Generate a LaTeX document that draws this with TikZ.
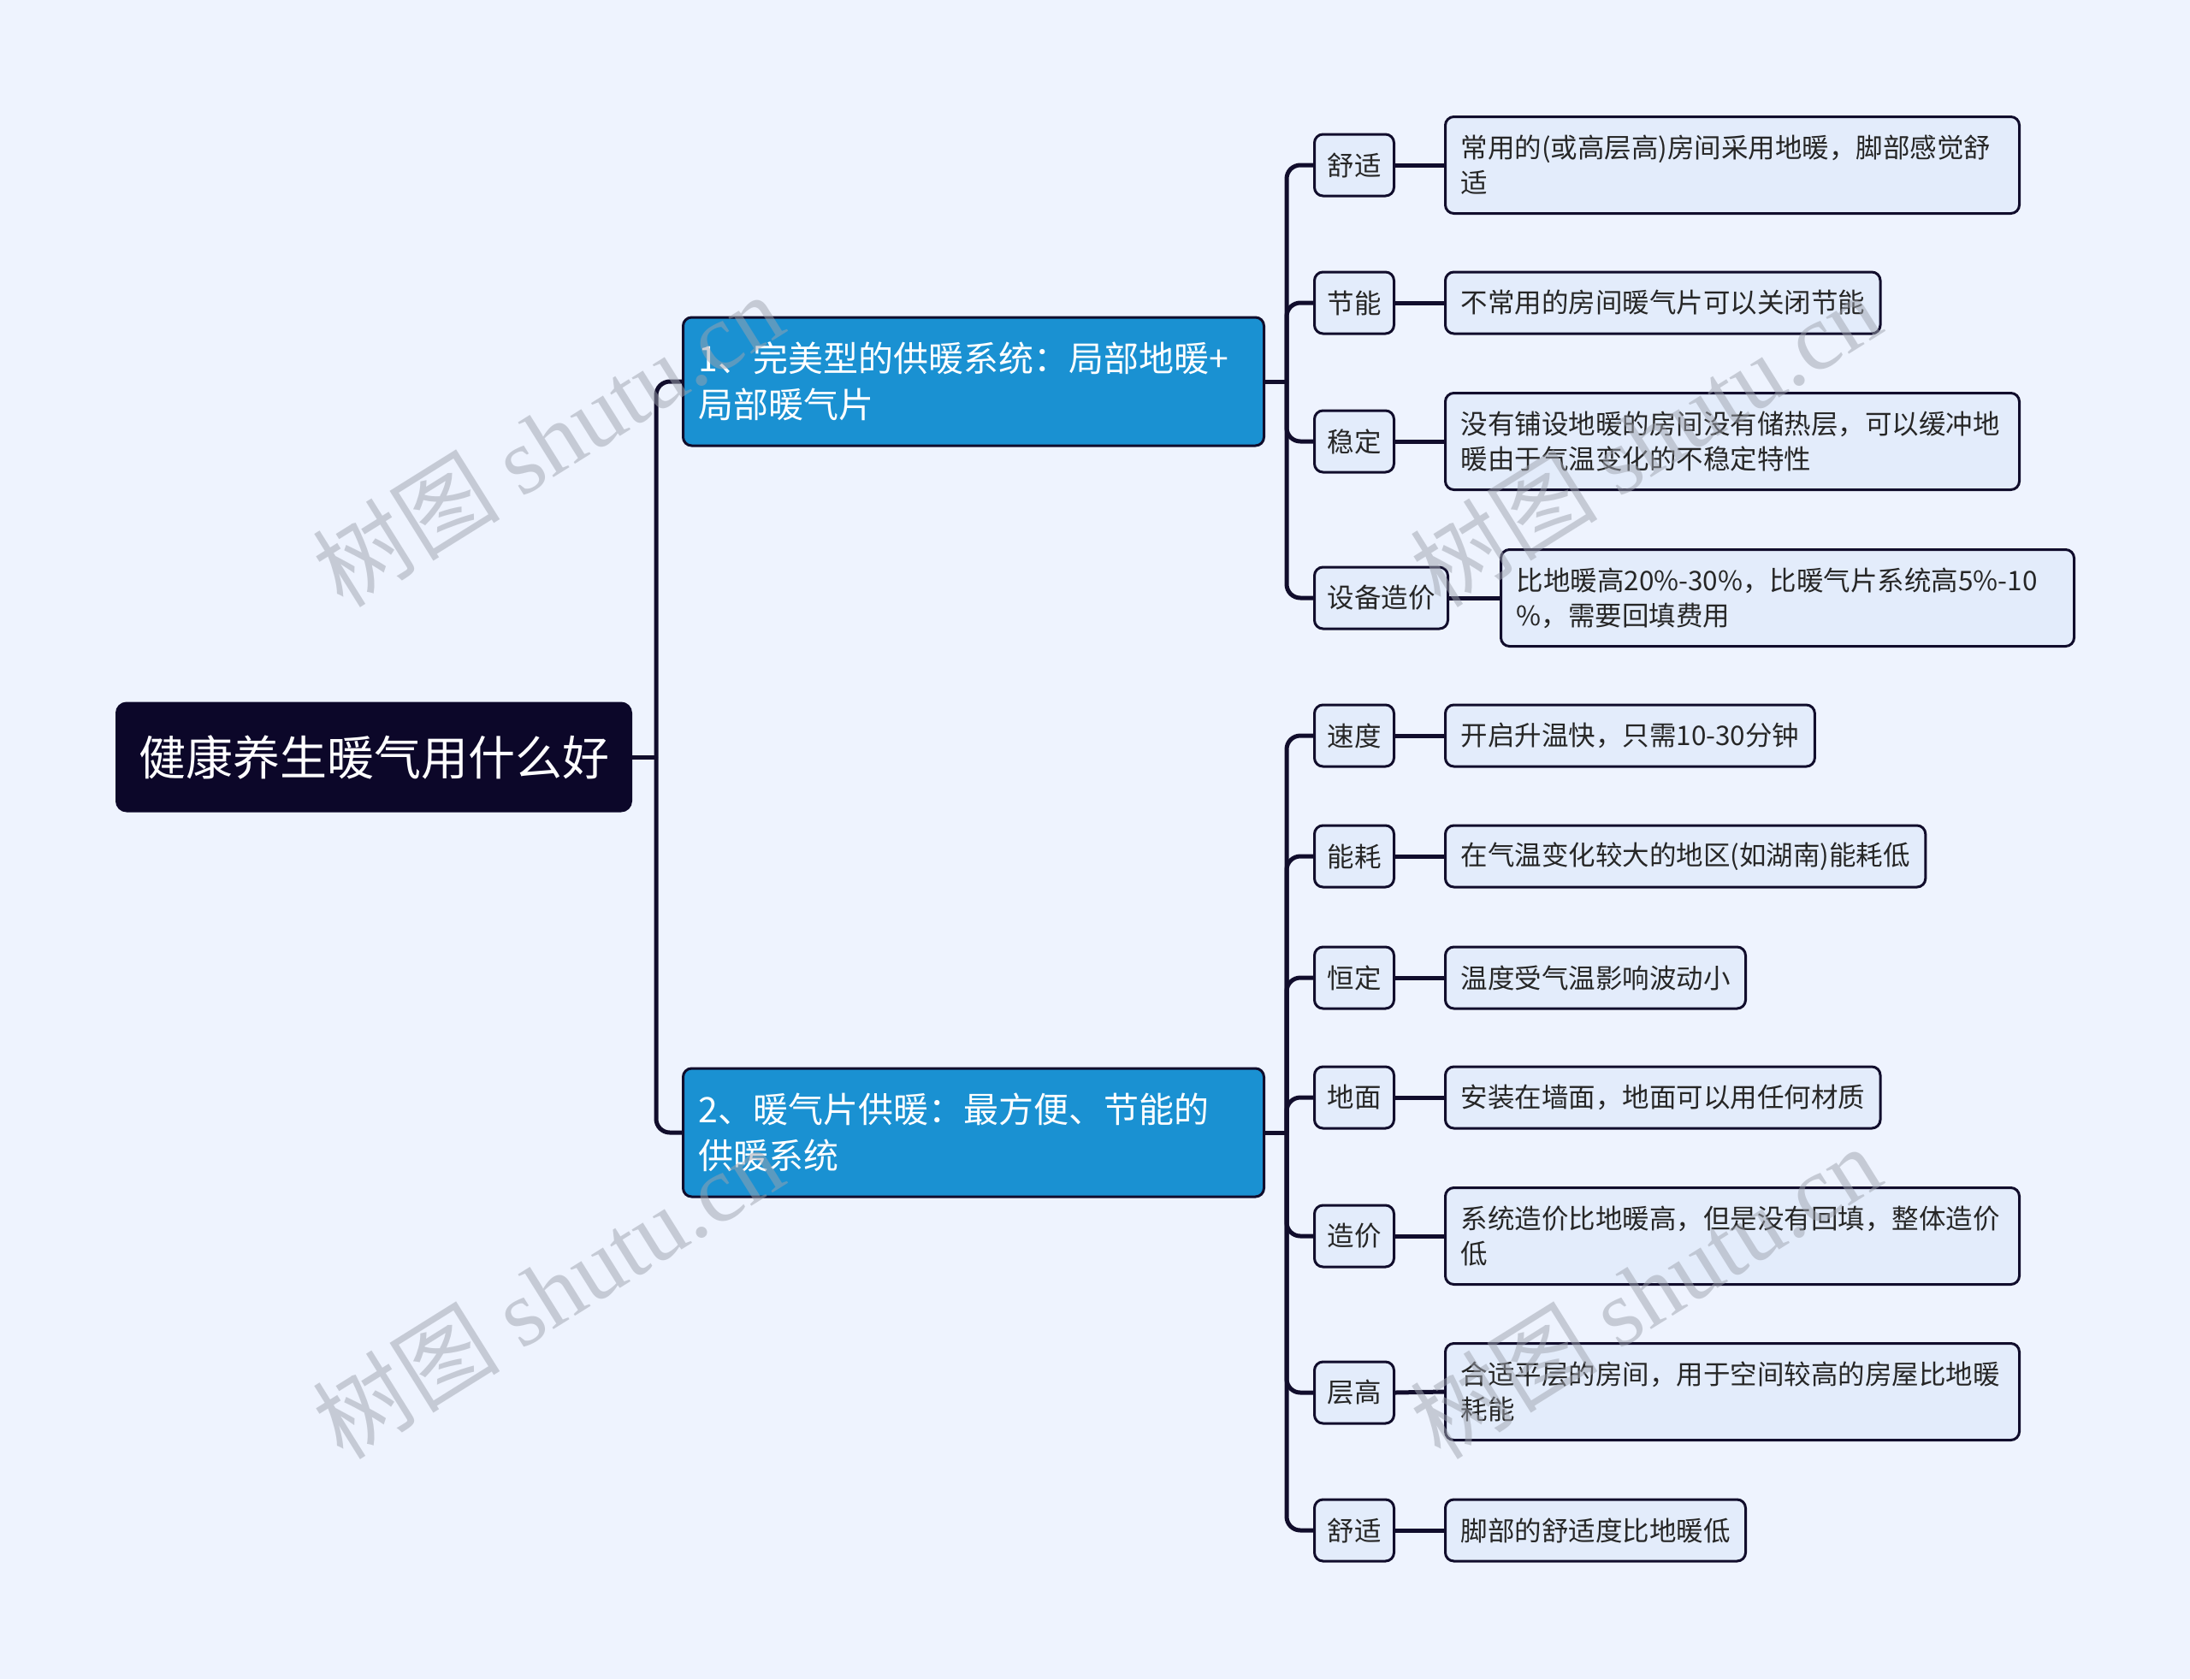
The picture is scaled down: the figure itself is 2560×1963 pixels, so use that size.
\documentclass[tikz,border=0pt]{standalone}
\usepackage{fontspec}
\setmainfont{Noto Sans CJK SC}
\newfontfamily\wmserif{Liberation Serif}
\definecolor{bg}{HTML}{EEF3FE}
\definecolor{ln}{HTML}{110D2C}
\definecolor{rootc}{HTML}{0C0729}
\definecolor{blu}{HTML}{1A91D2}
\definecolor{leafc}{HTML}{E3ECFB}
\definecolor{wm}{HTML}{9EA3AE}
\tikzset{
  conn/.style={draw=ln, line width=5pt},
  bus/.style={draw=ln, line width=5pt, rounded corners=16pt},
  rootbox/.style={draw=rootc, fill=rootc, rounded corners=12pt, text=white, line width=2pt,
    font=\fontsize{55}{66}\selectfont, minimum width=602pt, minimum height=127pt, anchor=west},
  brbox/.style={draw=ln, fill=blu, rounded corners=10pt, text=white, line width=3pt,
    font=\fontsize{41}{54}\selectfont, text width=643pt, inner xsep=18pt, align=left,
    minimum height=150pt, anchor=west},
  keybox/.style={draw=ln, fill=leafc, rounded corners=10pt, text=black!85, line width=3pt,
    font=\fontsize{31.5}{41}\selectfont, inner xsep=15pt, minimum height=72pt, anchor=west},
  leafbox/.style={draw=ln, fill=leafc, rounded corners=10pt, text=black!85, line width=3pt,
    font=\fontsize{31.5}{41}\selectfont, inner xsep=18pt, align=left, anchor=west},
  wmark/.style={text=wm, opacity=0.5, rotate=32, font=\fontsize{110}{110}\selectfont}
}
\begin{document}
\begin{tikzpicture}[x=1pt,y=-1pt]
\fill[bg] (0,0) rectangle (2560,1963);
\useasboundingbox (0,0) rectangle (2560,1963);

% root and branches
\node[rootbox] (root) at (135,885) {健康养生暖气用什么好};
\node[brbox] (b1) at (797,446) {1、完美型的供暖系统：局部地暖+\\局部暖气片};
\node[brbox] (b2) at (797,1324) {2、暖气片供暖：最方便、节能的\\供暖系统};

\coordinate (j0) at (767,885);
\draw[conn] (root.east) -- (j0);
\draw[bus] (j0) |- (b1.west);
\draw[bus] (j0) |- (b2.west);

% branch 1 keys
\node[keybox] (k11) at (1535,193) {舒适};
\node[keybox] (k12) at (1535,354) {节能};
\node[keybox] (k13) at (1535,516) {稳定};
\node[keybox] (k14) at (1535,699) {设备造价};

\node[leafbox, minimum height=113pt, text width=635pt] (l11) at (1688,193) {常用的(或高层高)房间采用地暖，脚部感觉舒\\适};
\node[leafbox, minimum height=72pt] (l12) at (1688,354) {不常用的房间暖气片可以关闭节能};
\node[leafbox, minimum height=113pt, text width=635pt] (l13) at (1688,516) {没有铺设地暖的房间没有储热层，可以缓冲地\\暖由于气温变化的不稳定特性};
\node[leafbox, minimum height=113pt, text width=634pt] (l14) at (1753,699) {比地暖高20\%-30\%，比暖气片系统高5\%-10\\\%，需要回填费用};

\coordinate (j1) at (1504,446);
\draw[conn] (b1.east) -- (j1);
\foreach \k in {k11,k12,k13,k14} { \draw[bus] (j1) |- (\k.west); }
\foreach \k/\l in {k11/l11,k12/l12,k13/l13,k14/l14} { \draw[conn] (\k.east) -- (\l.west); }

% branch 2 keys
\node[keybox] (k21) at (1535,860) {速度};
\node[keybox] (k22) at (1535,1001) {能耗};
\node[keybox] (k23) at (1535,1143) {恒定};
\node[keybox] (k24) at (1535,1283) {地面};
\node[keybox] (k25) at (1535,1445) {造价};
\node[keybox] (k26) at (1535,1628) {层高};
\node[keybox] (k27) at (1535,1789) {舒适};

\node[leafbox, minimum height=72pt] (l21) at (1688,860) {开启升温快，只需10-30分钟};
\node[leafbox, minimum height=72pt] (l22) at (1688,1001) {在气温变化较大的地区(如湖南)能耗低};
\node[leafbox, minimum height=72pt] (l23) at (1688,1143) {温度受气温影响波动小};
\node[leafbox, minimum height=72pt] (l24) at (1688,1283) {安装在墙面，地面可以用任何材质};
\node[leafbox, minimum height=113pt, text width=635pt] (l25) at (1688,1445) {系统造价比地暖高，但是没有回填，整体造价\\低};
\node[leafbox, minimum height=113pt, text width=635pt] (l26) at (1688,1627) {合适平层的房间，用于空间较高的房屋比地暖\\耗能};
\node[leafbox, minimum height=72pt] (l27) at (1688,1789) {脚部的舒适度比地暖低};

\coordinate (j2) at (1504,1324);
\draw[conn] (b2.east) -- (j2);
\foreach \k in {k21,k22,k23,k24,k25,k26,k27} { \draw[bus] (j2) |- (\k.west); }
\foreach \k/\l in {k21/l21,k22/l22,k23/l23,k24/l24,k25/l25,k26/l26,k27/l27} { \draw[conn] (\k.east) -- (\l.west); }

% watermarks
\node[wmark] (w1) at (640,514) {树图 {\wmserif shutu.cn}};
\node[wmark] (w2) at (640,1510) {树图 {\wmserif shutu.cn}};
\node[wmark] (w3) at (1923,514) {树图 {\wmserif shutu.cn}};
\node[wmark] (w4) at (1923,1510) {树图 {\wmserif shutu.cn}};
\end{tikzpicture}
\end{document}
